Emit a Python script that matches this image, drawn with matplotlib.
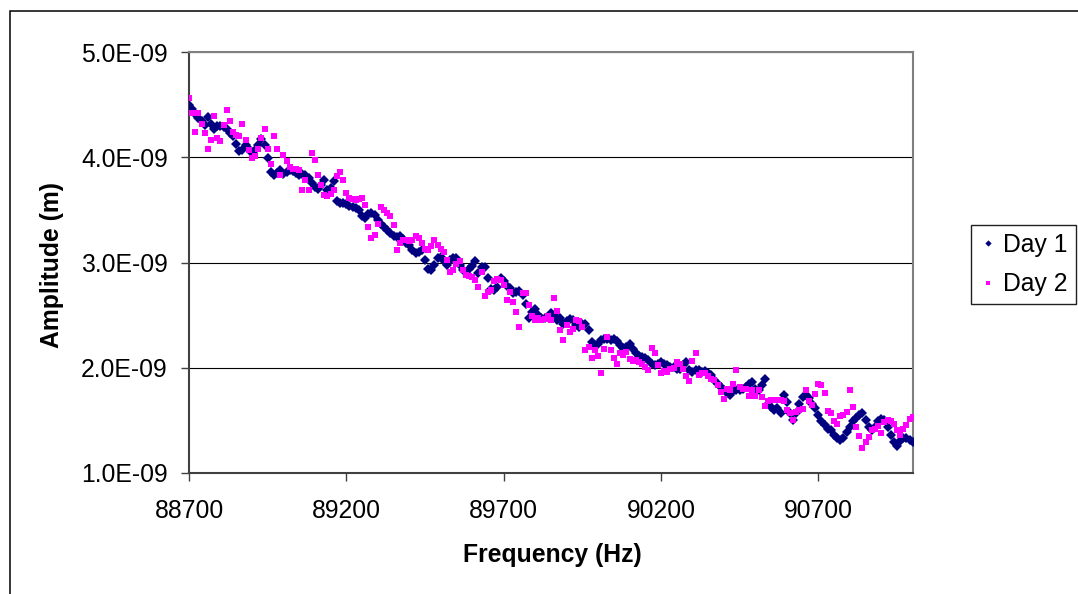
import numpy as np
import matplotlib
matplotlib.use("Agg")
import matplotlib.pyplot as plt
from matplotlib.patches import Rectangle
from matplotlib.lines import Line2D
from matplotlib.ticker import FuncFormatter

# Frequency sweep: 88700 Hz to 91000 Hz in 10 Hz steps
FREQ_START = 88700
FREQ_STOP = 91000
FREQ_STEP = 10

# Measured amplitude, in nanometres (1e-9 m)
day1_nm = [
    4.50, 4.46, 4.41, 4.37, 4.34, 4.31, 4.38, 4.32, 4.27, 4.30,
    4.30, 4.29, 4.27, 4.23, 4.20, 4.13, 4.06, 4.07, 4.12, 4.08,
    4.04, 4.07, 4.12, 4.17, 4.12, 3.99, 3.86, 3.83, 3.85, 3.88,
    3.84, 3.86, 3.88, 3.87, 3.85, 3.83, 3.84, 3.83, 3.80, 3.76,
    3.72, 3.70, 3.74, 3.78, 3.69, 3.71, 3.77,
    3.58, 3.57, 3.57, 3.56, 3.54, 3.53, 3.52, 3.50, 3.44, 3.42,
    3.46, 3.47, 3.45, 3.40, 3.37, 3.34, 3.31, 3.28, 3.25, 3.24,
    3.25, 3.22, 3.19, 3.17, 3.12, 3.09, 3.10, 3.12, 3.02, 2.94,
    2.93, 2.98, 3.04, 3.05, 3.01, 2.98, 3.02, 3.04, 3.04, 2.98,
    2.93, 2.91, 2.94, 2.97, 3.01, 2.90,
    2.96, 2.96, 2.85, 2.75, 2.74, 2.77, 2.85, 2.82, 2.78, 2.76,
    2.71, 2.72, 2.73, 2.69, 2.61, 2.47, 2.53, 2.56, 2.50, 2.47,
    2.47, 2.48, 2.52, 2.50, 2.45, 2.47, 2.42, 2.44, 2.46, 2.45,
    2.41, 2.39, 2.42, 2.42, 2.36, 2.24, 2.22, 2.23, 2.26, 2.27,
    2.27, 2.26, 2.27, 2.25, 2.22, 2.19,
    2.20, 2.23, 2.18, 2.14, 2.11, 2.10, 2.09, 2.07, 2.04, 2.03,
    2.04, 2.05, 2.04, 2.03, 2.01, 2.01, 1.99, 1.99, 2.03, 2.05,
    1.98, 1.96, 1.98, 1.98, 1.96, 1.97, 1.95, 1.93, 1.88, 1.85,
    1.82, 1.79, 1.76, 1.74, 1.78, 1.79, 1.79, 1.80, 1.82, 1.85,
    1.86, 1.80, 1.79, 1.84, 1.89, 1.66,
    1.63, 1.60, 1.62, 1.57, 1.74, 1.67, 1.57, 1.50, 1.57, 1.66,
    1.72, 1.74, 1.71, 1.66, 1.62, 1.55, 1.49, 1.46, 1.42, 1.41,
    1.36, 1.33, 1.31, 1.33, 1.39, 1.44, 1.49, 1.52, 1.55, 1.57,
    1.50, 1.44, 1.41, 1.44, 1.49, 1.51, 1.50, 1.44, 1.36, 1.29,
    1.26, 1.30, 1.33, 1.33, 1.31, 1.29,
]

day2_nm = [
    4.56, 4.42, 4.24, 4.42, 4.32, 4.23, 4.08, 4.16, 4.39, 4.18,
    4.15, 4.31, 4.45, 4.34, 4.24, 4.21, 4.20, 4.32, 4.16, 4.07,
    3.99, 4.01, 4.08, 4.18, 4.27, 4.08, 3.94, 4.20, 4.08, 3.83,
    4.02, 3.96, 3.91, 3.89, 3.89, 3.88, 3.69, 3.78, 3.69, 4.04,
    3.97, 3.83, 3.74, 3.64, 3.63, 3.65, 3.69,
    3.82, 3.86, 3.78, 3.66, 3.61, 3.60, 3.59, 3.60, 3.61, 3.55,
    3.34, 3.23, 3.26, 3.37, 3.53, 3.50, 3.47, 3.44, 3.36, 3.12,
    3.19, 3.21, 3.21, 3.20, 3.21, 3.25, 3.23, 3.19, 3.13, 3.12,
    3.16, 3.21, 3.17, 3.13, 3.10, 3.02, 2.91, 2.93, 2.99, 3.01,
    2.93, 2.88, 2.87, 2.86, 2.83, 2.77,
    2.91, 2.68, 2.72, 2.74, 2.82, 2.84, 2.83, 2.79, 2.64, 2.72,
    2.62, 2.53, 2.39, 2.71, 2.71, 2.60, 2.49, 2.45, 2.47, 2.45,
    2.46, 2.49, 2.45, 2.66, 2.54, 2.36, 2.26, 2.41, 2.34, 2.37,
    2.45, 2.44, 2.39, 2.17, 2.20, 2.09, 2.17, 2.11, 1.95, 2.18,
    2.29, 2.17, 2.09, 2.04, 2.14, 2.12,
    2.15, 2.08, 2.06, 2.07, 2.05, 2.04, 2.01, 1.98, 2.19, 2.14,
    2.03, 1.95, 1.97, 1.96, 1.99, 2.00, 2.05, 2.04, 1.99, 1.92,
    1.87, 2.06, 2.14, 1.93, 1.95, 1.95, 1.92, 1.89, 1.88, 1.84,
    1.77, 1.70, 1.80, 1.79, 1.85, 1.98, 1.82, 1.80, 1.80, 1.73,
    1.79, 1.73, 1.79, 1.72, 1.64, 1.68,
    1.69, 1.69, 1.69, 1.69, 1.68, 1.60, 1.57, 1.50, 1.58, 1.60,
    1.61, 1.79, 1.68, 1.65, 1.75, 1.85, 1.84, 1.76, 1.59, 1.57,
    1.49, 1.47, 1.54, 1.55, 1.58, 1.79, 1.63, 1.44, 1.35, 1.24,
    1.29, 1.34, 1.41, 1.42, 1.45, 1.38, 1.48, 1.50, 1.49, 1.47,
    1.41, 1.36, 1.42, 1.46, 1.51, 1.53,
]

series_labels = ["Day 1", "Day 2"]
x_ticks = [88700, 89200, 89700, 90200, 90700]
y_ticks = [1e-9, 2e-9, 3e-9, 4e-9, 5e-9]

freq = np.arange(FREQ_START, FREQ_STOP + FREQ_STEP, FREQ_STEP)
amp1 = np.asarray(day1_nm) * 1e-9
amp2 = np.asarray(day2_nm) * 1e-9

FONT = "Liberation Sans"
FS = 17.8
NAVY = "#000080"
MAGENTA = "#FF00FF"

W, H = 1078, 594
fig = plt.figure(figsize=(W / 100, H / 100), dpi=100)
fig.patch.set_facecolor("white")

# plot area in pixel terms
left, right, top, bottom = 189, 912.7, 52, 473
ax = fig.add_axes([left / W, 1 - bottom / H, (right - left) / W, (bottom - top) / H])

ax.plot(freq, amp1, linestyle="none", marker="D", markersize=4.7,
        markerfacecolor=NAVY, markeredgewidth=0, label=series_labels[0], zorder=3)
ax.plot(freq, amp2, linestyle="none", marker="s", markersize=4.0,
        markerfacecolor=MAGENTA, markeredgewidth=0, label=series_labels[1], zorder=4)

ax.set_xlim(FREQ_START, FREQ_STOP)
ax.set_ylim(1e-9, 5e-9)
ax.set_xticks(x_ticks)
ax.set_yticks(y_ticks)
ax.yaxis.set_major_formatter(FuncFormatter(lambda v, p: f"{v:.1E}"))
ax.xaxis.set_major_formatter(FuncFormatter(lambda v, p: f"{int(round(v))}"))

ax.grid(axis="y", color="black", linewidth=0.8, zorder=1)
ax.set_axisbelow(True)

for side in ("top", "right"):
    ax.spines[side].set_color("#808080")
    ax.spines[side].set_linewidth(1.5)
for side in ("left", "bottom"):
    ax.spines[side].set_color("#404040")
    ax.spines[side].set_linewidth(1.5)

ax.tick_params(axis="both", direction="out", length=5.8, width=1.0, color="#404040",
               labelsize=FS, labelcolor="black")
ax.tick_params(axis="y", pad=9.5)
ax.tick_params(axis="x", pad=13)
for lbl in ax.get_xticklabels() + ax.get_yticklabels():
    lbl.set_fontfamily(FONT)

fig.text(552 / W, 1 - 555 / H, "Frequency (Hz)", ha="center", va="center",
         fontsize=FS, fontweight="bold", family=FONT)
fig.text(52 / W, 1 - 265 / H, "Amplitude (m)", ha="center", va="center",
         rotation=90, fontsize=FS, fontweight="bold", family=FONT)

# chart-area border
fig.patches.append(Rectangle((10 / W, -0.1), 1.2, 1 - 10.5 / H + 0.1,
                             transform=fig.transFigure, fill=False,
                             edgecolor="black", linewidth=1.1))

handles = [
    Line2D([], [], linestyle="none", marker="D", markersize=3.2,
           markerfacecolor=NAVY, markeredgewidth=0),
    Line2D([], [], linestyle="none", marker="s", markersize=3.0,
           markerfacecolor=MAGENTA, markeredgewidth=0),
]
leg = fig.legend(handles, series_labels, loc="center",
                 bbox_to_anchor=(1023.4 / W, 1 - 264.5 / H),
                 frameon=True, fancybox=False, framealpha=1, edgecolor="#202020",
                 prop={"family": FONT, "size": FS}, handlelength=0.7,
                 handletextpad=0.25, labelspacing=0.62, borderpad=0.33,
                 borderaxespad=0)
leg.get_frame().set_linewidth(1.0)

fig.savefig("out.png", dpi=100)
